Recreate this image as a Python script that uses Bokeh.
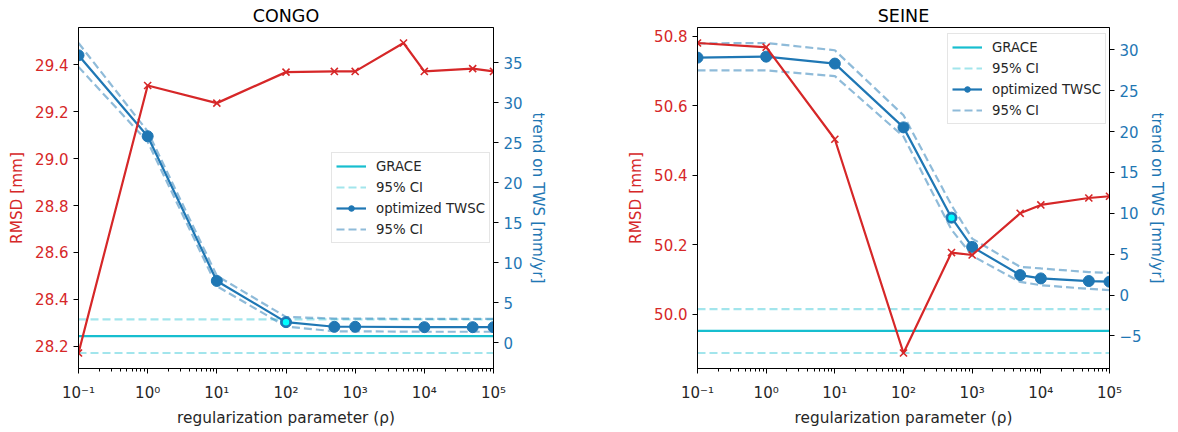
from bokeh.plotting import figure
from bokeh.models import Range1d, LinearAxis, FixedTicker, Legend, LegendItem, NumeralTickFormatter
from bokeh.layouts import row
from bokeh.embed import file_html
from bokeh.resources import INLINE

# ---------------- data ----------------
x_limits = [0.1, 1e5]
rho = [0.1, 1, 10, 100, 500, 1000, 5000, 1e4, 5e4, 1e5]

# CONGO
congo_rmsd = [28.172, 29.311, 29.236, 29.368, 29.371, 29.371, 29.492, 29.371, 29.383, 29.371]
congo_trend_rho = [0.1, 1, 10, 100, 500, 1000, 1e4, 5e4, 1e5]
congo_trend = [35.96, 25.84, 7.75, 2.60, 2.02, 2.02, 1.97, 1.97, 1.97]
congo_trend_hi = [37.5, 26.45, 8.4, 3.25, 3.05, 3.05, 3.0, 3.0, 3.0]
congo_trend_lo = [34.5, 25.15, 7.1, 2.05, 1.45, 1.45, 1.4, 1.4, 1.4]
congo_grace = 0.84
congo_grace_lo = -1.26
congo_grace_hi = 2.94
congo_selected_rho = 100
congo_left_ticks = [28.2, 28.4, 28.6, 28.8, 29.0, 29.2, 29.4]
congo_right_ticks = [0, 5, 10, 15, 20, 25, 30, 35]

# SEINE
seine_rmsd = [50.781, 50.769, 50.504, 49.889, 50.178, 50.171, 50.291, 50.315, 50.335, 50.340]
seine_trend_rho = [0.1, 1, 10, 100, 500, 1000, 5000, 1e4, 5e4, 1e5]
seine_trend = [29.06, 29.18, 28.33, 20.52, 9.47, 5.89, 2.44, 2.03, 1.71, 1.63]
seine_trend_hi = [30.8, 30.85, 29.96, 22.0, 11.0, 6.9, 3.45, 3.25, 2.8, 2.7]
seine_trend_lo = [27.5, 27.5, 26.8, 19.4, 8.0, 4.8, 1.6, 1.2, 0.75, 0.6]
seine_grace = -4.39
seine_grace_lo = -7.1
seine_grace_hi = -1.72
seine_selected_rho = 500
seine_left_ticks = [50.0, 50.2, 50.4, 50.6, 50.8]
seine_right_ticks = [-5, 0, 5, 10, 15, 20, 25, 30]

x_major = [0.1, 1, 10, 100, 1000, 10000, 100000]
x_labels = ["10⁻¹", "10⁰", "10¹", "10²", "10³", "10⁴", "10⁵"]

# ---------------- styles ----------------
RED = "#d62728"
BLUE = "#1f77b4"
CYAN = "#17becf"
FONT = "DejaVu Sans"
TICK_FS = "15px"
LABEL_FS = "15.3px"
DASH = "8 4"
FRAME_H = 341


def pad(vals):
    lo, hi = min(vals), max(vals)
    d = hi - lo
    return lo - 0.05 * d, hi + 0.05 * d


def style_axis(ax, color, label_standoff):
    ax.major_label_text_font = FONT
    ax.major_label_text_font_size = TICK_FS
    ax.major_label_text_color = color
    ax.axis_label_text_font = FONT
    ax.axis_label_text_font_size = LABEL_FS
    ax.axis_label_text_font_style = "normal"
    ax.axis_label_text_color = color
    ax.axis_label_standoff = label_standoff
    ax.axis_line_color = "black"
    ax.major_tick_line_color = "black"
    ax.minor_tick_line_color = "black"
    ax.major_tick_in = 0
    ax.major_tick_out = 5
    ax.minor_tick_in = 0
    ax.minor_tick_out = 3
    ax.major_label_standoff = 5


def make_panel(title, rmsd, trend_rho, trend, t_hi, t_lo, grace, g_lo, g_hi, sel_rho,
               lticks, rticks, fw, bl, br, legend_loc):
    y0, y1 = pad(rmsd)
    t0, t1 = pad(trend + t_hi + t_lo + [grace, g_lo, g_hi])
    p = figure(frame_width=fw, frame_height=FRAME_H, x_axis_type="log",
               x_range=Range1d(x_limits[0], x_limits[1]), y_range=Range1d(y0, y1),
               output_backend="svg", toolbar_location=None, title=title,
               min_border_left=bl, min_border_right=br, min_border_top=27, min_border_bottom=64)
    p.extra_y_ranges = {"trend": Range1d(t0, t1)}
    p.xgrid.visible = False
    p.ygrid.visible = False
    p.outline_line_color = "black"
    p.outline_line_alpha = 1
    p.background_fill_color = "white"
    p.border_fill_color = "white"

    p.title.align = "center"
    p.title.text_font = FONT
    p.title.text_font_size = "17.5px"
    p.title.text_font_style = "normal"
    p.title.text_color = "black"
    p.title.standoff = 4
    p.title.offset = 0

    # x axis
    minor = [m * 10 ** k for k in range(-1, 5) for m in range(2, 10)]
    xa = p.xaxis[0]
    xa.ticker = FixedTicker(ticks=x_major, minor_ticks=minor)
    xa.major_label_overrides = {(0.1 if v < 1 else int(v)): lab for v, lab in zip(x_major, x_labels)}
    xa.axis_label = "regularization parameter (ρ)"
    style_axis(xa, "#262626", 4)
    xa.major_label_standoff = 10

    # left axis
    ya = p.yaxis[0]
    ya.ticker = FixedTicker(ticks=lticks)
    ya.formatter = NumeralTickFormatter(format="0.0")
    ya.axis_label = "RMSD [mm]"
    style_axis(ya, RED, 6)

    # right axis
    ra = LinearAxis(y_range_name="trend", ticker=FixedTicker(ticks=rticks),
                    axis_label="trend on TWS [mm/yr]")
    ra.major_label_overrides = {v: ("−" + str(-v) if v < 0 else str(v)) for v in rticks}
    style_axis(ra, BLUE, 3)
    p.add_layout(ra, "right")

    # GRACE lines
    g = p.line(x_limits, [grace, grace], y_range_name="trend", line_color=CYAN, line_width=2.2)
    gh = p.line(x_limits, [g_hi, g_hi], y_range_name="trend", line_color=CYAN, line_alpha=0.4,
                line_width=2.2, line_dash=DASH)
    p.line(x_limits, [g_lo, g_lo], y_range_name="trend", line_color=CYAN, line_alpha=0.4,
           line_width=2.2, line_dash=DASH)

    # TWSC with CI
    ch = p.line(trend_rho, t_hi, y_range_name="trend", line_color=BLUE, line_alpha=0.5,
                line_width=2.2, line_dash=DASH)
    p.line(trend_rho, t_lo, y_range_name="trend", line_color=BLUE, line_alpha=0.5,
           line_width=2.2, line_dash=DASH)
    bline = p.line(trend_rho, trend, y_range_name="trend", line_color=BLUE, line_width=2.2)
    bcirc = p.scatter(trend_rho, trend, y_range_name="trend", marker="circle", size=11,
                      fill_color=BLUE, line_color=BLUE)
    si = trend_rho.index(sel_rho)
    p.scatter([trend_rho[si]], [trend[si]], y_range_name="trend", marker="circle", size=8,
              fill_color="#00ffff", line_color=BLUE, line_width=1.5)

    # RMSD
    p.line(rho, rmsd, line_color=RED, line_width=2.2)
    p.scatter(rho, rmsd, marker="x", size=10, line_color=RED, line_width=1.6)

    legend = Legend(items=[
        LegendItem(label="GRACE", renderers=[g]),
        LegendItem(label="95% CI", renderers=[gh]),
        LegendItem(label="optimized TWSC", renderers=[bline, bcirc]),
        LegendItem(label="95% CI", renderers=[ch]),
    ], location=legend_loc)
    legend.label_text_font = FONT
    legend.label_text_font_size = "13.3px"
    legend.label_text_color = "#262626"
    legend.glyph_width = 30
    legend.glyph_height = 14
    legend.label_height = 18
    legend.spacing = 3
    legend.padding = 4
    legend.margin = 0
    legend.label_standoff = 10
    legend.border_line_color = "#cccccc"
    legend.background_fill_alpha = 0.8
    p.add_layout(legend)
    return p


p1 = make_panel("CONGO", congo_rmsd, congo_trend_rho, congo_trend, congo_trend_hi, congo_trend_lo,
                congo_grace, congo_grace_lo, congo_grace_hi, congo_selected_rho,
                congo_left_ticks, congo_right_ticks, 415, 78, 105, (253, 125))
p2 = make_panel("SEINE", seine_rmsd, seine_trend_rho, seine_trend, seine_trend_hi, seine_trend_lo,
                seine_grace, seine_grace_lo, seine_grace_hi, seine_selected_rho,
                seine_left_ticks, seine_right_ticks, 412, 99, 69, (250, 244))

layout = row(p1, p2)
open("out.html", "w").write(file_html(layout, INLINE))
